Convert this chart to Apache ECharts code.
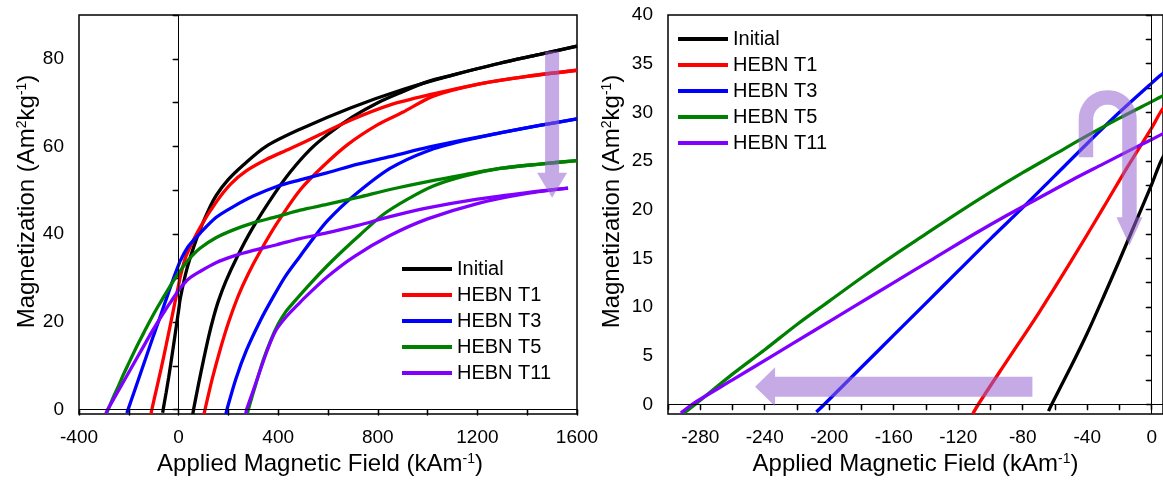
<!DOCTYPE html>
<html><head><meta charset="utf-8">
<script src="https://cdn.jsdelivr.net/npm/echarts@6/dist/echarts.min.js"></script>
<style>html,body{margin:0;padding:0;background:#fff}#c{width:1163px;height:484px}</style>
</head><body><div id="c"></div>
<script>
// ---------- data ----------
const seriesNames  = ['Initial', 'HEBN T1', 'HEBN T3', 'HEBN T5', 'HEBN T11'];
const seriesColors = ['#000000', '#ff0000', '#0000ff', '#008000', '#8000ff'];

// [field kA/m, magnetization Am2/kg]
const initialUpper = [[-64,-0.7],[-62,0],[-50,3.9],[-40,7.3],[-30,11],[-20,14.8],[-10,18.7],[0,22.6],[7,25.4],[32,31.8],[60,37],[86,41],[120,45.5],[153,49],[200,52.5],[260,55.8],[350,60],[490,64],[690,68.8],[900,73],[1100,76.3],[1290,79],[1450,81],[1600,82.9]];
const initialLower = [[57,-1],[60,0],[80,5.8],[100,11.3],[120,16.5],[140,21],[160,24.8],[190,29.3],[233,34.6],[293,41],[380,48.8],[450,54.3],[528,59.3],[600,62.8],[700,66.8],[800,70],[900,72.5],[1000,74.8],[1100,76.3],[1290,79],[1450,81],[1600,82.9]];

const t1Upper = [[-111,-1],[-107.5,0],[-90,4.4],[-70,9.4],[-50,14.7],[-30,20.2],[-15,24.4],[0,28.4],[7,30.4],[30,35],[86,41.5],[153,47.5],[210,51.5],[273,54.5],[350,57],[447,59.5],[560,62.5],[690,66],[850,69.5],[1023,72],[1200,74.2],[1400,76],[1600,77.4]];
const t1Lower = [[102,-1],[106,0],[135,7],[166,13.5],[200,19.8],[240,26],[280,31],[327,36],[394,42.4],[488,50.1],[580,55.5],[680,60.5],[800,65],[900,67.8],[1023,71.5],[1200,74.2],[1400,76],[1600,77.4]];

const t3Upper = [[-208,-0.8],[-203,0],[-180,3.8],[-160,7.1],[-140,10.4],[-120,13.7],[-100,17],[-80,20.2],[-60,23.5],[-40,26.8],[-20,30],[0,33],[7,34],[40,37.3],[86,40.2],[150,43.8],[220,46.3],[300,48.7],[394,50.9],[488,52.4],[595,54],[720,56],[849,57.7],[1000,59.8],[1150,61.6],[1291,63.1],[1450,64.8],[1600,66.3]];
const t3Lower = [[190,-1],[194,0],[230,7],[273,13.6],[330,20.5],[380,25.7],[430,30.5],[488,35],[540,39],[600,43.2],[700,48.6],[849,55],[1000,59],[1150,61.4],[1291,63.1],[1450,64.8],[1600,66.3]];

const t5Upper = [[-290,-0.9],[-283,0],[-260,3.1],[-240,5.6],[-220,8.2],[-200,10.6],[-180,13],[-160,15.3],[-140,17.5],[-120,19.7],[-100,21.8],[-80,23.8],[-60,25.7],[-40,27.6],[-20,29.4],[0,31.1],[7,31.7],[40,34.2],[86,36.8],[150,39.2],[220,41],[300,42.6],[394,44],[488,45.5],[595,46.8],[720,48.4],[849,50.2],[1000,52],[1150,53.6],[1291,55],[1450,56],[1600,56.8]];
const t5Lower = [[276,-1],[280,0],[310,5.8],[340,11.3],[370,15.8],[400,19.5],[430,22.3],[461,24.4],[530,28.8],[595,32.7],[660,36.3],[729,39.9],[822,44.5],[920,48],[1023,51],[1150,53.3],[1291,55],[1450,56],[1600,56.8]];

const t11Upper = [[-292,-0.9],[-285,0],[-260,2.5],[-235,5],[-210,7.5],[-185,10],[-160,12.5],[-135,15],[-110,17.5],[-90,19.4],[-70,21.2],[-50,23],[-30,24.7],[-10,26.4],[0,27.2],[7,27.8],[40,29.8],[86,31.5],[150,33.5],[220,35],[300,36.3],[394,37.6],[488,39],[595,40.3],[720,42],[849,44],[1000,46],[1200,48],[1400,49.5],[1564,50.5]];
const t11Lower = [[270,-1],[273,0],[310,6],[354,13.2],[390,18],[434,21.3],[480,24],[515,26],[595,30.2],[702,34.8],[849,39.7],[1000,43.5],[1200,47],[1400,49.3],[1564,50.5]];

const upperBranches = [initialUpper, t1Upper, t3Upper, t5Upper, t11Upper];
const lowerBranches = [initialLower, t1Lower, t3Lower, t5Lower, t11Lower];

// tick values
const leftXLabels  = [-400, 0, 400, 800, 1200, 1600];
const leftXMinor   = [-200, 200, 600, 1000, 1400];
const leftYLabels  = [0, 20, 40, 60, 80];
const leftYMinor   = [10, 30, 50, 70, 90];
const rightXLabels = [-280, -240, -200, -160, -120, -80, -40, 0];
const rightXMinor  = [-300, -260, -220, -180, -140, -100, -60, -20];
const rightYLabels = [0, 5, 10, 15, 20, 25, 30, 35, 40];
const rightYMinor  = [2.5, 7.5, 12.5, 17.5, 22.5, 27.5, 32.5, 37.5];

// ---------- chart ----------
const FONT = '"Liberation Sans", Arial, sans-serif';
const chart = echarts.init(document.getElementById('c'), null, {renderer: 'canvas'});

const xName = '{a|Applied Magnetic Field (kAm}{s|-1}{a|)}';
const yName = '{a|Magnetization (Am}{s|2}{a|kg}{s|-1}{a|)}';
const nameRich = {
  a: {fontSize: 24, fontFamily: FONT, color: '#000'},
  s: {fontSize: 14, fontFamily: FONT, color: '#000', verticalAlign: 'top'}
};
const plainNum = function (v) { return String(v); };

function xAxesFor(gi, min, max, labels, minor, namePad) {
  return [
    {type: 'value', gridIndex: gi, min, max, position: 'bottom',
     axisLine: {show: false}, splitLine: {show: false},
     axisTick: {show: true, customValues: labels.concat(minor), length: 6, lineStyle: {color: '#000', width: 1.3}},
     axisLabel: {customValues: labels, formatter: plainNum, fontSize: 19, color: '#000', fontFamily: FONT, margin: 14},
     name: xName, nameLocation: 'middle', nameGap: 38,
     nameTextStyle: {rich: nameRich, padding: namePad}},
    {type: 'value', gridIndex: gi, min, max, position: 'top',
     axisLine: {show: false}, splitLine: {show: false},
     axisTick: {show: true, inside: true, customValues: labels.concat(minor), length: 5, lineStyle: {color: '#000', width: 1.3}},
     axisLabel: {show: false}}
  ];
}
function yAxesFor(gi, min, max, labels, minor, gap) {
  return [
    {type: 'value', gridIndex: gi, min, max, position: 'left',
     axisLine: {show: false}, splitLine: {show: false},
     axisTick: {show: true, customValues: labels.concat(minor), length: 6, lineStyle: {color: '#000', width: 1.3}},
     axisLabel: {customValues: labels, formatter: plainNum, fontSize: 19, color: '#000', fontFamily: FONT, margin: 15},
     name: yName, nameLocation: 'middle', nameGap: gap, nameRotate: 90,
     nameTextStyle: {rich: nameRich, padding: [0, 0, 0, 26]}},
    {type: 'value', gridIndex: gi, min, max, position: 'right',
     axisLine: {show: false}, splitLine: {show: false},
     axisTick: {show: true, inside: true, customValues: labels.concat(minor), length: 5, lineStyle: {color: '#000', width: 1.3}},
     axisLabel: {show: false}}
  ];
}

const series = [];
[0, 1].forEach(function (p) {
  seriesNames.forEach(function (nm, i) {
    [upperBranches[i], lowerBranches[i]].forEach(function (branch, b) {
      const s = {
        type: 'line', name: nm, xAxisIndex: p * 2, yAxisIndex: p * 2,
        data: branch, symbol: 'none', showSymbol: false, smooth: 0.3,
        clip: true, silent: true,
        lineStyle: {color: seriesColors[i], width: 3.3},
        itemStyle: {color: seriesColors[i]},
        emphasis: {disabled: true}
      };
      if (i === 0 && b === 0) {
        s.markLine = {silent: true, symbol: 'none', label: {show: false}, animation: false,
          lineStyle: {color: '#000', width: 1, type: 'solid'},
          data: [{xAxis: 0}, {yAxis: 0}]};
      }
      series.push(s);
    });
  });
});

const legendBase = {
  data: seriesNames, orient: 'vertical', icon: 'rect', itemWidth: 50, itemHeight: 4,
  itemGap: 6, padding: 0, selectedMode: false,
  textStyle: {fontSize: 20, color: '#000', fontFamily: FONT, lineHeight: 20}
};

chart.setOption({
  animation: false,
  backgroundColor: '#fff',
  grid: [
    {left: 79, top: 15, width: 498, height: 399, show: true, borderColor: '#000', borderWidth: 1.5, containLabel: false},
    {left: 668, top: 15, width: 495, height: 399, show: true, borderColor: '#000', borderWidth: 1.5, containLabel: false}
  ],
  xAxis: xAxesFor(0, -400, 1600, leftXLabels, leftXMinor, [0, 16, 0, 0])
         .concat(xAxesFor(1, -300, 7, rightXLabels, rightXMinor, [0, 0, 0, 0])),
  yAxis: yAxesFor(0, -1, 90, leftYLabels, leftYMinor, 40)
         .concat(yAxesFor(1, -1, 40, rightYLabels, rightYMinor, 44)),
  legend: [
    Object.assign({}, legendBase, {left: 402, top: 259}),
    Object.assign({}, legendBase, {left: 678, top: 29})
  ],
  series: series
});

// ---------- annotation arrows (anchored in data coordinates) ----------
const ARROW_FILL = 'rgba(150,100,210,0.55)';
const leftArrow  = {grid: 0, tail: [1500, 81.7], tip: [1500, 48.3], w: 7, hw: 15, hl: 25};
const rightArrow = {grid: 1, tail: [-74, 1.8], tip: [-246, 1.8], w: 10, hw: 19.5, hl: 20};
const uArrow     = {grid: 1, center: [-27.3, 29.3], ro: 29, ri: 14.5, leftDrop: 38, headBase: 98, tipDrop: 126, hw: 13};

function toPx(g, pt) { return chart.convertToPixel({gridIndex: g}, pt); }
function straightArrow(a) {
  const T = toPx(a.grid, a.tail), P = toPx(a.grid, a.tip);
  const dx = P[0] - T[0], dy = P[1] - T[1], L = Math.hypot(dx, dy);
  const d = [dx / L, dy / L], n = [-d[1], d[0]];
  const B = [P[0] - d[0] * a.hl, P[1] - d[1] * a.hl];
  const pts = [
    [T[0] + n[0] * a.w, T[1] + n[1] * a.w],
    [B[0] + n[0] * a.w, B[1] + n[1] * a.w],
    [B[0] + n[0] * a.hw, B[1] + n[1] * a.hw],
    P,
    [B[0] - n[0] * a.hw, B[1] - n[1] * a.hw],
    [B[0] - n[0] * a.w, B[1] - n[1] * a.w],
    [T[0] - n[0] * a.w, T[1] - n[1] * a.w]
  ];
  return {type: 'polygon', z: 100, silent: true, shape: {points: pts}, style: {fill: ARROW_FILL}};
}
function uTurnArrow(a) {
  const C = toPx(a.grid, a.center), cx = C[0], cy = C[1];
  const pts = [];
  pts.push([cx - a.ro, cy + a.leftDrop]);
  for (let k = 0; k <= 24; k++) { const t = Math.PI - Math.PI * k / 24; pts.push([cx + a.ro * Math.cos(t), cy - a.ro * Math.sin(t)]); }
  const rm = (a.ro + a.ri) / 2;
  pts.push([cx + a.ro, cy + a.headBase]);
  pts.push([cx + rm + a.hw, cy + a.headBase]);
  pts.push([cx + rm, cy + a.tipDrop]);
  pts.push([cx + rm - a.hw, cy + a.headBase]);
  pts.push([cx + a.ri, cy + a.headBase]);
  for (let k = 0; k <= 24; k++) { const t = Math.PI * k / 24; pts.push([cx + a.ri * Math.cos(t), cy - a.ri * Math.sin(t)]); }
  pts.push([cx - a.ri, cy + a.leftDrop]);
  return {type: 'polygon', z: 100, silent: true, shape: {points: pts}, style: {fill: ARROW_FILL}};
}
chart.setOption({graphic: [straightArrow(leftArrow), straightArrow(rightArrow), uTurnArrow(uArrow)]});
</script>
</body></html>
